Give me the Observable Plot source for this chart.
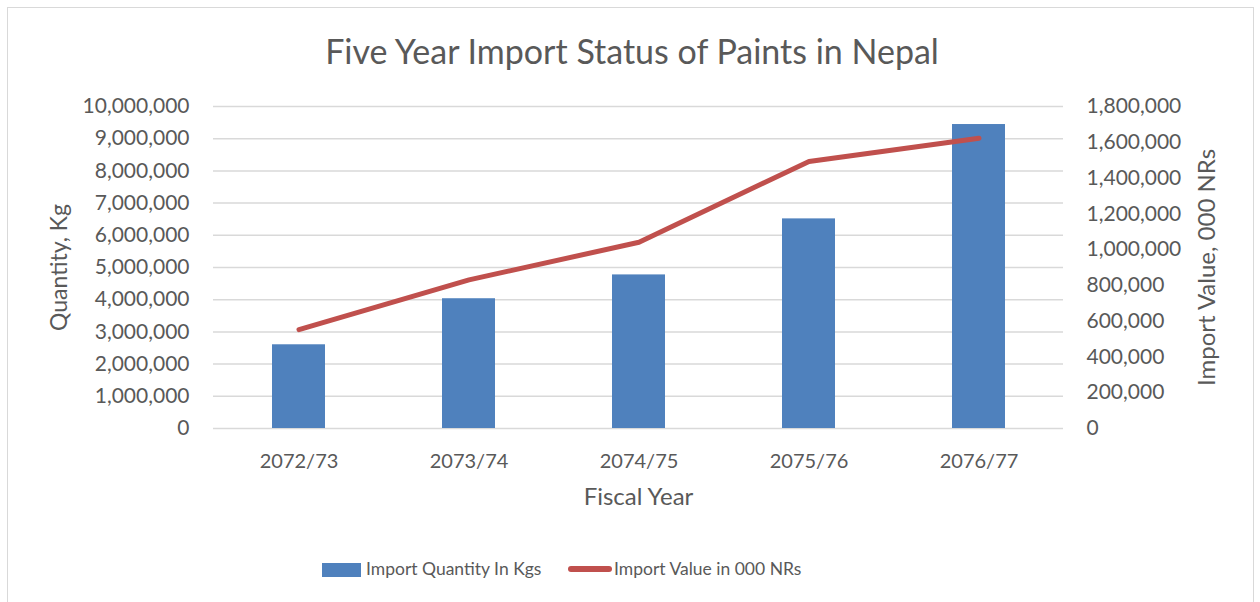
<!DOCTYPE html>
<html>
<head>
<meta charset="utf-8">
<script src="https://cdn.jsdelivr.net/npm/d3@7"></script>
<script src="https://cdn.jsdelivr.net/npm/@observablehq/plot@0.6"></script>
<style>
  html, body { margin: 0; padding: 0; background: #fff; }
  #wrap { position: relative; width: 1260px; height: 602px; overflow: hidden; font-family: Lato, "Open Sans", sans-serif; color: #595959; }
  #border { position: absolute; left: 7px; top: 7px; width: 1247px; height: 620px; border: 1.5px solid #d9d9d9; box-sizing: border-box; }
  #title { position: absolute; left: 0; top: 30px; width: 1264px; text-align: center; font-size: 34px; line-height: 42px; }
  #chart { position: absolute; left: 0; top: 90px; }
  .leg { position: absolute; font-size: 17.5px; line-height: 24px; top: 557px; }
</style>
</head>
<body>
<div id="wrap">
  <div id="border"></div>
  <div id="title">Five Year Import Status of Paints in Nepal</div>
  <div id="chart"></div>
  <div style="position:absolute;left:322px;top:563px;width:39px;height:14px;background:#4F81BD"></div>
  <div class="leg" style="left:366px">Import Quantity In Kgs</div>
  <div style="position:absolute;left:568px;top:566px;width:44px;height:6px;border-radius:3px;background:#C0504D"></div>
  <div class="leg" style="left:614px">Import Value in 000 NRs</div>
</div>
<script>
const years = ["2072/73", "2073/74", "2074/75", "2075/76", "2076/77"];
const quantityKg = [2600000, 4030000, 4770000, 6510000, 9440000];
const valueThousandNRs = [553000, 831000, 1041000, 1493000, 1623000];
const leftTicks = [0, 1000000, 2000000, 3000000, 4000000, 5000000, 6000000, 7000000, 8000000, 9000000, 10000000];
const rightTicks = [0, 200000, 400000, 600000, 800000, 1000000, 1200000, 1400000, 1600000, 1800000];

const k = 10000000 / 1800000;
const fmt = d3.format(",");
const bars = years.map((y, i) => ({year: y, q: quantityKg[i]}));
const line = years.map((y, i) => ({year: y, v: valueThousandNRs[i] * k}));

const chart = Plot.plot({
  width: 1260,
  height: 440,
  marginTop: 16,
  marginBottom: 102,
  marginLeft: 213,
  marginRight: 197,
  style: {fontFamily: "Lato, 'Open Sans', sans-serif", fontSize: "21px", color: "#595959", background: "transparent"},
  x: {domain: years, paddingInner: 0.69, paddingOuter: 0.345, align: 0.5, label: null},
  y: {domain: [0, 10000000], label: null},
  marks: [
    Plot.gridY(leftTicks, {stroke: "#d9d9d9", strokeOpacity: 1, strokeWidth: 1.5}),
    Plot.barY(bars, {x: "year", y: "q", fill: "#4F81BD"}),
    Plot.line(line, {x: "year", y: "v", stroke: "#C0504D", strokeWidth: 5, strokeLinecap: "round", strokeLinejoin: "round"}),
    Plot.axisY(leftTicks, {anchor: "left", tickSize: 0, tickPadding: 24, tickFormat: fmt, label: null, fill: "#595959"}),
    Plot.axisY(rightTicks.map(t => t * k), {anchor: "right", tickSize: 0, tickPadding: 23, tickFormat: d => fmt(Math.round(d / k)), label: null, fill: "#595959"}),
    Plot.axisX({tickSize: 0, tickPadding: 25, label: null, fill: "#595959", fontSize: 20}),
    Plot.text(["Fiscal Year"], {frameAnchor: "bottom", dy: 76, text: d => d, fontSize: 24, fill: "#595959"}),
    Plot.text(["Quantity, Kg"], {frameAnchor: "left", textAnchor: "middle", dx: -154, rotate: -90, text: d => d, fontSize: 23, fill: "#595959"}),
    Plot.text(["Import Value, 000 NRs"], {frameAnchor: "right", textAnchor: "middle", dx: 144, rotate: -90, text: d => d, fontSize: 24, fill: "#595959"})
  ]
});
document.getElementById("chart").appendChild(chart);
</script>
</body>
</html>
